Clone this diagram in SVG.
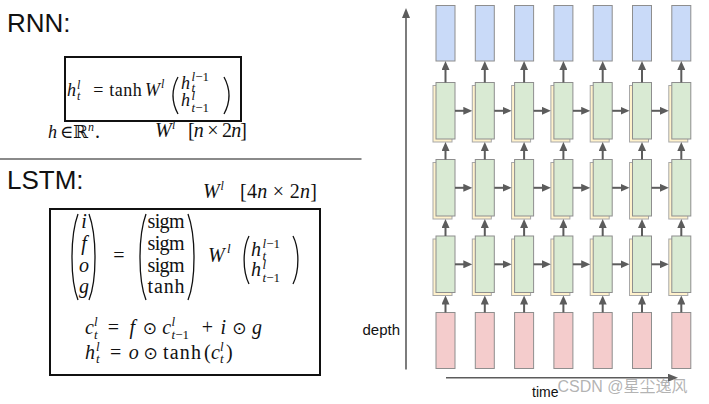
<svg xmlns="http://www.w3.org/2000/svg" width="709" height="404" viewBox="0 0 709 404">
<style>
.sans{font-family:"Liberation Sans",Arial,sans-serif;fill:#111}
.m{font-family:"Liberation Serif","DejaVu Serif",serif;fill:#111;font-size:20px}
.r{font-size:18px}
.i{font-style:italic}
.s{font-size:12px;font-style:italic}
.s13{font-size:13px;font-style:italic}
.n{font-style:normal}
.op{font-family:"DejaVu Sans",sans-serif;font-size:17px;fill:#111}
.par{fill:none;stroke:#111;stroke-width:1.3}
.box{fill:none;stroke:#111;stroke-width:2}
.blue{fill:#c9daf8;stroke:#8e8e8e;stroke-width:1}
.green{fill:#d9ead3;stroke:#8e8e8e;stroke-width:1}
.cream{fill:#fff2cc;stroke:#a8a8a8;stroke-width:1}
.pink{fill:#f4cccc;stroke:#8e8e8e;stroke-width:1}
.ar{fill:none;stroke:#5c5c5c;stroke-width:2;marker-end:url(#ah)}
.axis{fill:none;stroke:#5c5c5c;stroke-width:1.6;marker-end:url(#ax)}
</style>
<defs>
<marker id="ah" markerUnits="userSpaceOnUse" markerWidth="9" markerHeight="8" viewBox="0 0 9 8" refX="2" refY="4" orient="auto"><path d="M0,0 L9,4 L0,8 z" fill="#5c5c5c"/></marker>
<marker id="ax" markerUnits="userSpaceOnUse" markerWidth="10" markerHeight="8" viewBox="0 0 10 8" refX="1" refY="4" orient="auto"><path d="M0,0 L10,4 L0,8 z" fill="#5c5c5c"/></marker>
</defs>
<rect width="709" height="404" fill="#fff"/>

<!-- RNN -->
<g id="rnn-title"><text class="sans" x="7" y="32" font-size="26">RNN:</text></g>
<g id="rnn-formula">
<rect class="box" x="65" y="57" width="176" height="64"/>
<text class="m r i" x="67" y="96">h</text>
<text class="m s"><tspan x="77" y="88.5">l</tspan><tspan x="77" y="100">t</tspan></text>
<text class="m r" x="98.3" y="96" text-anchor="middle">=</text>
<text class="m r" x="109.3" y="96" textLength="32.4">tanh</text>
<text class="m r i" x="145" y="96">W</text>
<text class="m s" x="161" y="88">l</text>
<path class="par" d="M178,77 C171.5,89 171.5,102 178,114"/>
<text class="m s13"><tspan class="r i" x="181" y="88.5">h</tspan><tspan x="191.5" y="80.5">l<tspan class="n">−1</tspan></tspan><tspan x="191.5" y="91.5">t</tspan><tspan class="r i" x="181" y="106">h</tspan><tspan x="191.5" y="99.5">l</tspan><tspan x="191.5" y="112">t<tspan class="n">−1</tspan></tspan></text>
<path class="par" d="M224,77 C230.5,89 230.5,102 224,114"/>
</g>
<g id="rnn-dims">
<text class="m r i" x="48" y="138">h</text>
<text class="m r" x="60" y="138">∈</text>
<text class="m r" x="73" y="138">ℝ</text>
<text class="m s" x="88" y="131">n</text>
<text class="m" x="95" y="138" font-size="10" fill="#999">.</text>
<text class="m i" x="155" y="137" font-size="18">W</text>
<text class="m s" x="172" y="129">l</text>
<text class="m" x="188" y="137" font-size="18" textLength="59">[<tspan class="i">n</tspan> × 2<tspan class="i">n</tspan>]</text>
</g>

<line x1="0" y1="159" x2="361.5" y2="159" stroke="#8a8a8a" stroke-width="2"/>

<!-- LSTM -->
<g id="lstm-title"><text class="sans" x="7" y="189" font-size="26">LSTM:</text></g>
<g id="lstm-dims">
<text class="m i" x="203" y="198" font-size="19">W</text>
<text class="m s" x="220.5" y="190">l</text>
<text class="m" x="240" y="198" font-size="19" textLength="77">[4<tspan class="i">n</tspan> × 2<tspan class="i">n</tspan>]</text>
</g>
<g id="lstm-formula">
<rect class="box" x="50" y="209" width="270" height="166"/>
<path class="par" d="M78,214 C70,236 70,280 78,300"/>
<text class="m i" text-anchor="middle"><tspan x="84" y="228">i</tspan><tspan x="84" y="249.5">f</tspan><tspan x="84" y="271.5">o</tspan><tspan x="84" y="293">g</tspan></text>
<path class="par" d="M89,214 C97,236 97,280 89,300"/>
<text class="m" x="119" y="262" text-anchor="middle">=</text>
<path class="par" d="M146,214 C138,236 138,280 146,300"/>
<text class="m" x="147.5" y="228" textLength="37">sigm</text>
<text class="m" x="147.5" y="249.5" textLength="37">sigm</text>
<text class="m" x="147.5" y="271.5" textLength="37">sigm</text>
<text class="m" x="147.5" y="293" textLength="37">tanh</text>
<path class="par" d="M188,214 C196,236 196,280 188,300"/>
<text class="m i" x="208" y="262">W</text>
<text class="m s13" x="227" y="253">l</text>
<path class="par" d="M249,236 C242.5,249 242.5,271 249,284"/>
<text class="m s13"><tspan class="i" font-size="20" x="251" y="256">h</tspan><tspan x="262.5" y="247.5">l<tspan class="n">−1</tspan></tspan><tspan x="262.5" y="260">t</tspan><tspan class="i" font-size="20" x="251" y="276">h</tspan><tspan x="262.5" y="268.5">l</tspan><tspan x="262.5" y="282">t<tspan class="n">−1</tspan></tspan></text>
<path class="par" d="M293,236 C299.5,249 299.5,271 293,284"/>

<text class="m i" x="85" y="334">c</text>
<text class="m s13"><tspan x="94" y="326">l</tspan><tspan x="94" y="339">t</tspan></text>
<text class="m" x="113.5" y="334" text-anchor="middle">=</text>
<text class="m i" x="132.3" y="334" text-anchor="middle">f</text>
<text class="op" x="149.8" y="334" text-anchor="middle">⊙</text>
<text class="m i" x="166.8" y="334" text-anchor="middle">c</text>
<text class="m s13"><tspan x="171.5" y="326">l</tspan><tspan x="171.5" y="339">t<tspan class="n">−1</tspan></tspan></text>
<text class="m" x="207.3" y="334" text-anchor="middle">+</text>
<text class="m i" x="223.3" y="334" text-anchor="middle">i</text>
<text class="op" x="239.4" y="334" text-anchor="middle">⊙</text>
<text class="m i" x="256.9" y="334" text-anchor="middle">g</text>

<text class="m i" x="85" y="359">h</text>
<text class="m s13"><tspan x="96" y="351">l</tspan><tspan x="96" y="363">t</tspan></text>
<text class="m" x="115.6" y="359" text-anchor="middle">=</text>
<text class="m i" x="133.7" y="359" text-anchor="middle">o</text>
<text class="op" x="150.7" y="359" text-anchor="middle">⊙</text>
<text class="m" x="163" y="359" textLength="38">tanh</text>
<text class="m" x="204" y="359">(</text>
<text class="m i" x="211" y="359">c</text>
<text class="m s13"><tspan x="220" y="351">l</tspan><tspan x="220" y="363">t</tspan></text>
<text class="m" x="226" y="359">)</text>
</g>

<!-- Right diagram: nodes -->
<g id="out-1"><rect class="blue" x="436" y="5.5" width="19" height="55.5"/></g>
<g id="out-2"><rect class="blue" x="475.3" y="5.5" width="19" height="55.5"/></g>
<g id="out-3"><rect class="blue" x="514.6" y="5.5" width="19" height="55.5"/></g>
<g id="out-4"><rect class="blue" x="553.9" y="5.5" width="19" height="55.5"/></g>
<g id="out-5"><rect class="blue" x="593.2" y="5.5" width="19" height="55.5"/></g>
<g id="out-6"><rect class="blue" x="632.5" y="5.5" width="19" height="55.5"/></g>
<g id="out-7"><rect class="blue" x="671.8" y="5.5" width="19" height="55.5"/></g>

<g id="h1-1"><rect class="cream" x="433" y="85.5" width="19" height="56.5"/><rect class="green" x="436" y="82.5" width="19" height="56.5"/></g>
<g id="h1-2"><rect class="cream" x="472.3" y="85.5" width="19" height="56.5"/><rect class="green" x="475.3" y="82.5" width="19" height="56.5"/></g>
<g id="h1-3"><rect class="cream" x="511.6" y="85.5" width="19" height="56.5"/><rect class="green" x="514.6" y="82.5" width="19" height="56.5"/></g>
<g id="h1-4"><rect class="cream" x="550.9" y="85.5" width="19" height="56.5"/><rect class="green" x="553.9" y="82.5" width="19" height="56.5"/></g>
<g id="h1-5"><rect class="cream" x="590.2" y="85.5" width="19" height="56.5"/><rect class="green" x="593.2" y="82.5" width="19" height="56.5"/></g>
<g id="h1-6"><rect class="cream" x="629.5" y="85.5" width="19" height="56.5"/><rect class="green" x="632.5" y="82.5" width="19" height="56.5"/></g>
<g id="h1-7"><rect class="cream" x="668.8" y="85.5" width="19" height="56.5"/><rect class="green" x="671.8" y="82.5" width="19" height="56.5"/></g>

<g id="h2-1"><rect class="cream" x="433" y="162.5" width="19" height="56.5"/><rect class="green" x="436" y="159.5" width="19" height="56.5"/></g>
<g id="h2-2"><rect class="cream" x="472.3" y="162.5" width="19" height="56.5"/><rect class="green" x="475.3" y="159.5" width="19" height="56.5"/></g>
<g id="h2-3"><rect class="cream" x="511.6" y="162.5" width="19" height="56.5"/><rect class="green" x="514.6" y="159.5" width="19" height="56.5"/></g>
<g id="h2-4"><rect class="cream" x="550.9" y="162.5" width="19" height="56.5"/><rect class="green" x="553.9" y="159.5" width="19" height="56.5"/></g>
<g id="h2-5"><rect class="cream" x="590.2" y="162.5" width="19" height="56.5"/><rect class="green" x="593.2" y="159.5" width="19" height="56.5"/></g>
<g id="h2-6"><rect class="cream" x="629.5" y="162.5" width="19" height="56.5"/><rect class="green" x="632.5" y="159.5" width="19" height="56.5"/></g>
<g id="h2-7"><rect class="cream" x="668.8" y="162.5" width="19" height="56.5"/><rect class="green" x="671.8" y="159.5" width="19" height="56.5"/></g>

<g id="h3-1"><rect class="cream" x="433" y="239" width="19" height="56.5"/><rect class="green" x="436" y="236" width="19" height="56.5"/></g>
<g id="h3-2"><rect class="cream" x="472.3" y="239" width="19" height="56.5"/><rect class="green" x="475.3" y="236" width="19" height="56.5"/></g>
<g id="h3-3"><rect class="cream" x="511.6" y="239" width="19" height="56.5"/><rect class="green" x="514.6" y="236" width="19" height="56.5"/></g>
<g id="h3-4"><rect class="cream" x="550.9" y="239" width="19" height="56.5"/><rect class="green" x="553.9" y="236" width="19" height="56.5"/></g>
<g id="h3-5"><rect class="cream" x="590.2" y="239" width="19" height="56.5"/><rect class="green" x="593.2" y="236" width="19" height="56.5"/></g>
<g id="h3-6"><rect class="cream" x="629.5" y="239" width="19" height="56.5"/><rect class="green" x="632.5" y="236" width="19" height="56.5"/></g>
<g id="h3-7"><rect class="cream" x="668.8" y="239" width="19" height="56.5"/><rect class="green" x="671.8" y="236" width="19" height="56.5"/></g>

<g id="in-1"><rect class="pink" x="436" y="312.5" width="19" height="56"/></g>
<g id="in-2"><rect class="pink" x="475.3" y="312.5" width="19" height="56"/></g>
<g id="in-3"><rect class="pink" x="514.6" y="312.5" width="19" height="56"/></g>
<g id="in-4"><rect class="pink" x="553.9" y="312.5" width="19" height="56"/></g>
<g id="in-5"><rect class="pink" x="593.2" y="312.5" width="19" height="56"/></g>
<g id="in-6"><rect class="pink" x="632.5" y="312.5" width="19" height="56"/></g>
<g id="in-7"><rect class="pink" x="671.8" y="312.5" width="19" height="56"/></g>

<!-- connectors -->
<g id="connectors">
<path class="ar" d="M445.5,82.5V68"/><path class="ar" d="M445.5,159.5V149"/><path class="ar" d="M445.5,236V226"/><path class="ar" d="M445.5,312.5V302.5"/>
<path class="ar" d="M484.8,82.5V68"/><path class="ar" d="M484.8,159.5V149"/><path class="ar" d="M484.8,236V226"/><path class="ar" d="M484.8,312.5V302.5"/>
<path class="ar" d="M524.1,82.5V68"/><path class="ar" d="M524.1,159.5V149"/><path class="ar" d="M524.1,236V226"/><path class="ar" d="M524.1,312.5V302.5"/>
<path class="ar" d="M563.4,82.5V68"/><path class="ar" d="M563.4,159.5V149"/><path class="ar" d="M563.4,236V226"/><path class="ar" d="M563.4,312.5V302.5"/>
<path class="ar" d="M602.7,82.5V68"/><path class="ar" d="M602.7,159.5V149"/><path class="ar" d="M602.7,236V226"/><path class="ar" d="M602.7,312.5V302.5"/>
<path class="ar" d="M642,82.5V68"/><path class="ar" d="M642,159.5V149"/><path class="ar" d="M642,236V226"/><path class="ar" d="M642,312.5V302.5"/>
<path class="ar" d="M681.3,82.5V68"/><path class="ar" d="M681.3,159.5V149"/><path class="ar" d="M681.3,236V226"/><path class="ar" d="M681.3,312.5V302.5"/>

<path class="ar" d="M455,110.8H465.3"/><path class="ar" d="M494.3,110.8H504.6"/><path class="ar" d="M533.6,110.8H543.9"/><path class="ar" d="M572.9,110.8H583.2"/><path class="ar" d="M612.2,110.8H622.5"/><path class="ar" d="M651.5,110.8H661.8"/>
<path class="ar" d="M455,187.8H465.3"/><path class="ar" d="M494.3,187.8H504.6"/><path class="ar" d="M533.6,187.8H543.9"/><path class="ar" d="M572.9,187.8H583.2"/><path class="ar" d="M612.2,187.8H622.5"/><path class="ar" d="M651.5,187.8H661.8"/>
<path class="ar" d="M455,264.3H465.3"/><path class="ar" d="M494.3,264.3H504.6"/><path class="ar" d="M533.6,264.3H543.9"/><path class="ar" d="M572.9,264.3H583.2"/><path class="ar" d="M612.2,264.3H622.5"/><path class="ar" d="M651.5,264.3H661.8"/>

<path class="axis" d="M406,369.5V17"/>
<path class="axis" d="M446,377.7H669"/>
</g>
<g id="axis-labels">
<text class="sans" x="362.5" y="335" font-size="15">depth</text>
<text class="sans" x="532" y="397" font-size="14">time</text>
</g>
<text x="557.5" y="391.5" font-family="Liberation Sans,'Noto Sans CJK SC',sans-serif" font-size="16" fill="#9a9a9a" fill-opacity="0.75">CSDN @星尘逸风</text>
</svg>
